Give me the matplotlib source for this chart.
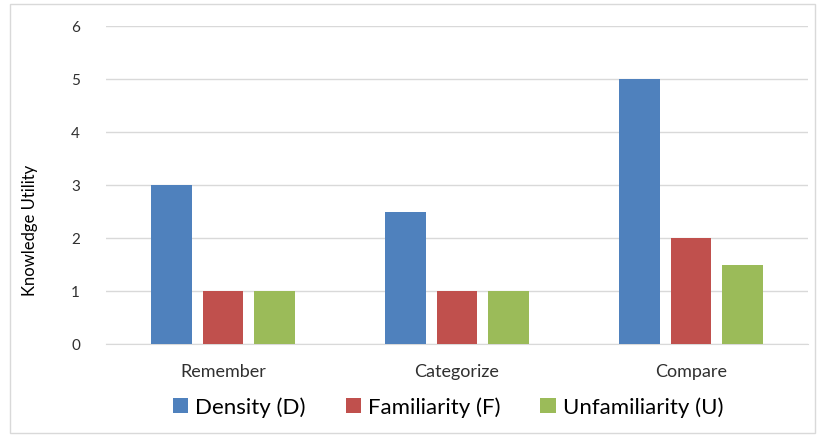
import matplotlib
matplotlib.use("Agg")
import matplotlib.pyplot as plt
import numpy as np
from matplotlib.patches import Rectangle

# Data
categories = ["Remember", "Categorize", "Compare"]
density = [3, 2.5, 5]
familiarity = [1, 1, 2]
unfamiliarity = [1, 1, 1.5]
series_names = ["Density (D)", "Familiarity (F)", "Unfamiliarity (U)"]
series_colors = ["#4F81BD", "#C0504D", "#9BBB59"]

plt.rcParams['font.family'] = ['Lato', 'DejaVu Sans']

fig = plt.figure(figsize=(8.19, 4.39), dpi=100)
ax = fig.add_axes([106 / 819, 1 - 345 / 439, (808 - 106) / 819, (345 - 27) / 439])

# light border around the whole chart
fig.patches.append(Rectangle((10 / 819, 5 / 439), 805 / 819, 429 / 439,
                             transform=fig.transFigure, fill=False,
                             edgecolor="#D9D9D9", linewidth=1))

x = np.arange(len(categories))
lebar = 0.175
jarak = 0.222
for i, (vals, nama, warna) in enumerate(zip([density, familiarity, unfamiliarity],
                                             series_names, series_colors)):
    ax.bar(x + (i - 1) * jarak, vals, width=lebar, color=warna, label=nama, zorder=3)

ax.set_xlim(-0.5, 2.5)
ax.set_ylim(0, 6)
ax.set_yticks(range(0, 7))
ax.yaxis.grid(True, color="#D9D9D9", linewidth=1, zorder=0)
ax.set_axisbelow(True)

for s in ["top", "right", "left"]:
    ax.spines[s].set_visible(False)
ax.spines["bottom"].set_color("#D9D9D9")

ax.tick_params(axis="both", length=0, labelsize=11, colors="#303030")
ax.tick_params(axis="y", pad=22)
ax.tick_params(axis="x", pad=14)
ax.set_xticks(x)
ax.set_xticklabels(categories, fontsize=13)
for lbl in ax.get_yticklabels():
    lbl.set_horizontalalignment("center")
ax.set_ylabel("Knowledge Utility", fontsize=12, color="#000000")
ax.yaxis.set_label_coords(-0.097, 0.36)

ax.legend(loc="center", bbox_to_anchor=(448 / 819, 1 - 408 / 439),
          bbox_transform=fig.transFigure, ncol=3, frameon=False,
          fontsize=16, handlelength=0.7, handleheight=0.7,
          handletextpad=0.3, columnspacing=1.8)

fig.savefig("out.png", dpi=100)
